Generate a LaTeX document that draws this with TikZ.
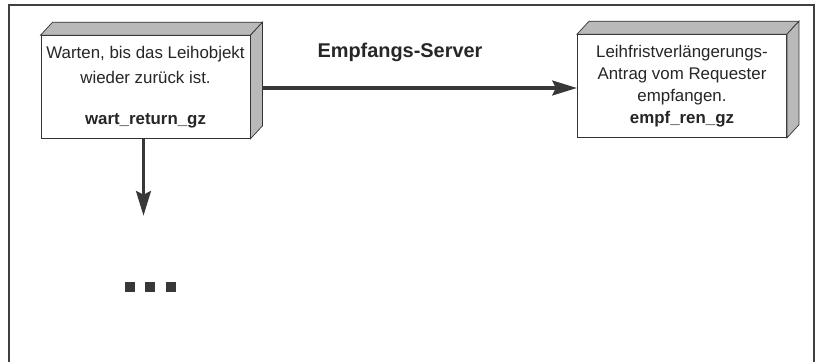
\documentclass[tikz,border=0pt]{standalone}
\usepackage{fontspec}
\setmainfont{Liberation Sans}
\usetikzlibrary{arrows.meta,calc}
\begin{document}
\begin{tikzpicture}[x=0.03cm,y=-0.03cm,
  zustand/.style={draw=black!80,line width=0.8pt,fill=white,minimum width=6.27cm,
    minimum height=3.08cm,inner sep=0pt,align=center,text=black!85,
    font=\fontsize{14.4}{21.3}\selectfont},
  seite/.style={draw=black!80,line width=0.6pt,fill=gray!55},
  pfeil/.style={draw=black!78,line width=3.4pt,
    -{Stealth[length=21pt,width=12.5pt,inset=3pt,fill=black!78]}},
  punkt/.style={fill=black!78,minimum size=8.5pt,inner sep=0pt}]
  \useasboundingbox (0,0) rectangle (816,362);
  % outer frame, open at the bottom
  \draw[black!75,line width=1.2pt] (9,362) -- (9,5) -- (814,5) -- (814,362);
  % states
  \node[zustand] (wart) at (145.5,87)
    {Warten, bis das Leihobjekt\\wieder zurück ist.\\[14pt]\textbf{wart\_return\_gz}};
  \node[zustand,font=\fontsize{14.4}{18.8}\selectfont] (empf) at (682,86)
    {Leihfristverlängerungs-\\Antrag vom Requester\\empfangen.\\\textbf{empf\_ren\_gz}};
  % shaded top and right faces
  \foreach \n in {wart,empf} {
    \draw[seite] (\n.north west) -- ++(12,-13) -- ([shift={(12,-13)}]\n.north east)
      -- (\n.north east) -- cycle;
    \draw[seite] (\n.north east) -- ++(12,-13) -- ([shift={(12,-13)}]\n.south east)
      -- (\n.south east) -- cycle;
  }
  % transition label
  \node[font=\fontsize{17}{20}\selectfont\bfseries,text=black!85] (server) at (400,52) {Empfangs-Server};
  % transitions
  \draw[pfeil] ($(wart.east)+(12,1)$) -- ($(empf.west)+(0,2)$);
  \coordinate (weiter) at ($(wart.south)+(-2,77)$);
  \draw[pfeil] ($(wart.south)+(-2,0)$) -- (weiter);
  % continuation dots
  \foreach \i/\x in {1/130,2/150,3/171}
    \node[punkt] (punkt\i) at (\x,287) {};
\end{tikzpicture}
\end{document}
